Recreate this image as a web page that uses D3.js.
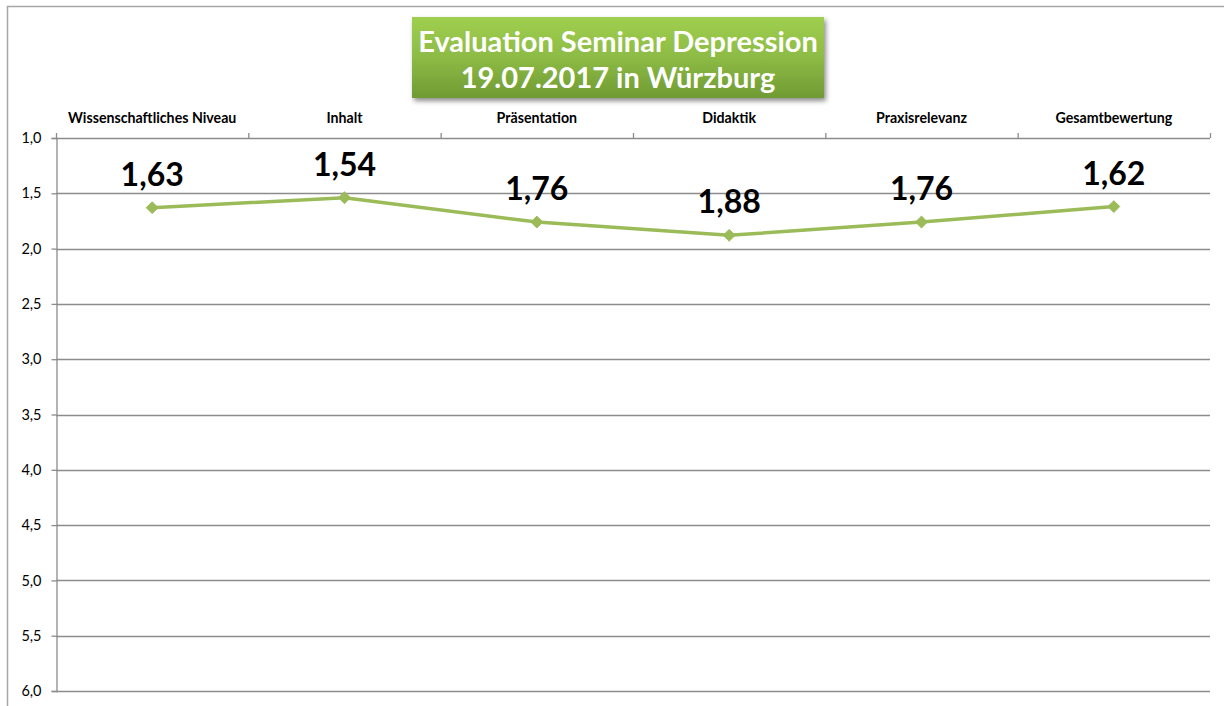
<!DOCTYPE html>
<html><head><meta charset="utf-8">
<script src="https://cdn.jsdelivr.net/npm/d3@7"></script>
<style>body{margin:0;background:#fff;} svg{display:block;}</style>
</head><body>
<svg id="c" width="1224" height="706"></svg>
<script>
const categories = ["Wissenschaftliches Niveau","Inhalt","Präsentation","Didaktik","Praxisrelevanz","Gesamtbewertung"];
const values = [1.63, 1.54, 1.76, 1.88, 1.76, 1.62];
const yTicks = [1.0,1.5,2.0,2.5,3.0,3.5,4.0,4.5,5.0,5.5,6.0];
const titleLines = ["Evaluation Seminar Depression","19.07.2017 in Würzburg"];

(function(){
const svg = d3.select("#c");
const F = "Lato, 'Open Sans', sans-serif";
const pL = 56, pR = 1210, pT = 138, pB = 691;

// outer frame
svg.append("rect").attr("x",7.5).attr("y",6.5).attr("width",1240).attr("height",720)
  .attr("fill","none").attr("stroke","#a6a6a6").attr("stroke-width",1.5);

const x = d3.scaleBand().domain(categories).range([pL,pR]).paddingInner(0).paddingOuter(0);
const y = d3.scaleLinear().domain([1,6]).range([pT,pB]);

// gridlines
svg.append("g").selectAll("line").data(yTicks).join("line")
  .attr("x1",pL).attr("x2",pR).attr("y1",d=>Math.round(y(d))+0.5).attr("y2",d=>Math.round(y(d))+0.5)
  .attr("stroke","#8c8c8c").attr("stroke-width",1.3);

// left axis
const ya = svg.append("g").attr("transform",`translate(${pL+0.5},0)`)
  .call(d3.axisLeft(y).tickValues(yTicks).tickSize(5).tickPadding(10)
    .tickFormat(d=>d3.format(".1f")(d).replace(".",",")));
ya.select(".domain").attr("stroke","#8c8c8c").attr("stroke-width",1.3);
ya.selectAll(".tick line").attr("stroke","#8c8c8c").attr("stroke-width",1.3);
ya.selectAll("text").attr("font-family",F).attr("font-size",14.5).attr("fill","#000");

// top axis (category)
const xa = svg.append("g").attr("transform",`translate(0,${pT+0.5})`)
  .call(d3.axisTop(x).tickSize(0).tickPadding(16));
xa.select(".domain").remove();
xa.selectAll("text").attr("font-family",F).attr("font-size",14.2).attr("font-weight","bold").attr("fill","#000");
const bounds = categories.map(c=>x(c)).concat([pR]);
svg.append("g").selectAll("line").data(bounds).join("line")
  .attr("x1",d=>d+0.5).attr("x2",d=>d+0.5).attr("y1",pT-5).attr("y2",pT)
  .attr("stroke","#8c8c8c").attr("stroke-width",1.3);

// line
const cx = c=>x(c)+x.bandwidth()/2;
svg.append("path").datum(values)
  .attr("d",d3.line().x((d,i)=>cx(categories[i])).y(d=>y(d)))
  .attr("fill","none").attr("stroke","#9bbb59").attr("stroke-width",3.5).attr("stroke-linejoin","round");
svg.append("g").selectAll("path").data(values).join("path")
  .attr("transform",(d,i)=>`translate(${cx(categories[i])},${y(d)})`)
  .attr("d",d3.symbol().type(d3.symbolDiamond2).size(90))
  .attr("fill","#9bbb59").attr("stroke","#9bbb59");

// data labels
svg.append("g").selectAll("text").data(values).join("text")
  .attr("x",(d,i)=>cx(categories[i])).attr("y",d=>y(d)-22)
  .attr("text-anchor","middle").attr("font-family",F).attr("font-weight","bold").attr("font-size",32)
  .attr("fill","#000").text(d=>d.toFixed(2).replace(".",","));

// title box
const defs = svg.append("defs");
const g = defs.append("linearGradient").attr("id","tg").attr("x1",0).attr("y1",0).attr("x2",0).attr("y2",1);
g.append("stop").attr("offset","0%").attr("stop-color","#9fcf4f");
g.append("stop").attr("offset","50%").attr("stop-color","#8dbb45");
g.append("stop").attr("offset","100%").attr("stop-color","#6f9a33");
const f = defs.append("filter").attr("id","sh").attr("x","-10%").attr("y","-10%").attr("width","130%").attr("height","140%");
f.append("feDropShadow").attr("dx",2).attr("dy",3).attr("stdDeviation",2.5).attr("flood-color","#000").attr("flood-opacity",0.45);
svg.append("rect").attr("x",412).attr("y",17).attr("width",412).attr("height",81)
  .attr("fill","url(#tg)").attr("filter","url(#sh)");
svg.append("g").selectAll("text").data(titleLines).join("text")
  .attr("x",618).attr("y",(d,i)=>52+i*36).attr("text-anchor","middle")
  .attr("font-family",F).attr("font-weight","bold").attr("font-size",29).attr("fill","#fff").text(d=>d);
})();
</script>
</body></html>
